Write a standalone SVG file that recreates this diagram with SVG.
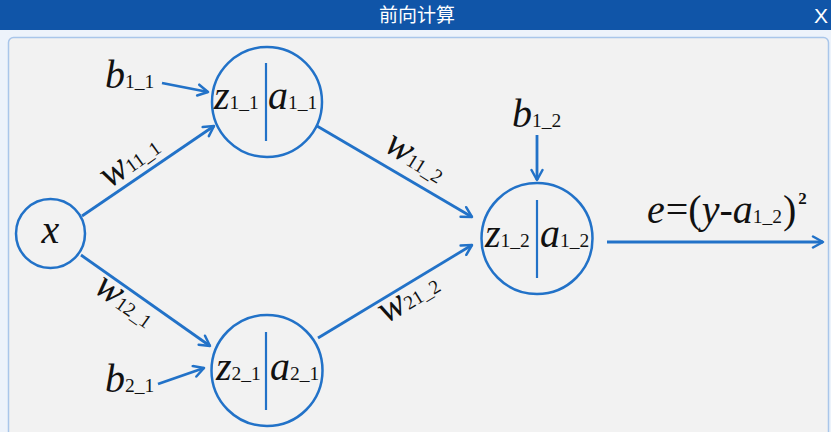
<svg xmlns="http://www.w3.org/2000/svg" width="831" height="432" viewBox="0 0 831 432">
<defs>
<style>
.m{font-family:"Liberation Serif","Times New Roman",serif;font-style:italic;font-size:40px;fill:#111}
.s{font-style:normal;font-size:19.5px}
.n{font-style:normal}
.sup{font-style:normal;font-size:17px;font-weight:bold}
.node{fill:none;stroke:#2272c8;stroke-width:2.5}
.div{stroke:#2272c8;stroke-width:2.2}
.edge{stroke:#2272c8;stroke-width:2.8;fill:none;marker-end:url(#arr)}
</style>
<marker id="arr" viewBox="0 0 14 14" markerWidth="14" markerHeight="14" refX="12" refY="7" orient="auto" markerUnits="userSpaceOnUse">
<path d="M2,1.5 L12,7 L2,12.5" fill="none" stroke="#2272c8" stroke-width="2.5" stroke-linecap="round" stroke-linejoin="round"/>
</marker>
</defs>
<rect x="0" y="0" width="831" height="432" fill="#edf3fb"/>
<rect x="0" y="0" width="831" height="30" fill="#1055a8"/>
<text x="417" y="22" text-anchor="middle" font-family="'Noto Sans CJK SC',sans-serif" font-size="19" fill="#ffffff">前向计算</text>
<text x="821" y="23" text-anchor="middle" font-family="'Liberation Sans',Arial,sans-serif" font-size="21" fill="#ffffff">X</text>
<rect x="8.5" y="37.5" width="820" height="420" rx="5" fill="#f2f2f2" stroke="#a9c6ea" stroke-width="1.5"/>

<g id="connectors">
<line class="edge" x1="162" y1="83" x2="208" y2="92"/>
<line class="edge" x1="82" y1="216" x2="214" y2="126"/>
<line class="edge" x1="81" y1="255" x2="210" y2="346"/>
<line class="edge" x1="158" y1="384" x2="204" y2="368"/>
<line class="edge" x1="317" y1="126" x2="472" y2="217"/>
<line class="edge" x1="318" y1="338" x2="472" y2="245"/>
<line class="edge" x1="537" y1="135" x2="537" y2="180"/>
<line class="edge" x1="607" y1="242" x2="823" y2="242"/>
<text class="m" x="136" y="170" text-anchor="middle" transform="rotate(-35.6 136 170)">w<tspan class="s">11_1</tspan></text>
<text class="m" x="119" y="310" text-anchor="middle" transform="rotate(35.4 119 310)">w<tspan class="s">12_1</tspan></text>
<text class="m" x="410" y="167" text-anchor="middle" transform="rotate(32.2 410 167)">w<tspan class="s">11_2</tspan></text>
<text class="m" x="414" y="307" text-anchor="middle" transform="rotate(-31.1 414 307)">w<tspan class="s">21_2</tspan></text>
</g>

<g id="bias_b1_1"><text class="m" x="105" y="88">b<tspan class="s">1_1</tspan></text></g>
<g id="bias_b2_1"><text class="m" x="105" y="392">b<tspan class="s">2_1</tspan></text></g>
<g id="bias_b1_2"><text class="m" x="512" y="127">b<tspan class="s">1_2</tspan></text></g>

<g id="node_x">
<circle class="node" cx="50.5" cy="233.5" r="34.5"/>
<text class="m" x="50.5" y="243" text-anchor="middle">x</text>
</g>
<g id="node_1_1">
<circle class="node" cx="267" cy="102" r="55"/>
<line class="div" x1="266" y1="63" x2="266" y2="141"/>
<text class="m" x="214" y="109">z<tspan class="s">1_1</tspan></text>
<text class="m" x="268" y="109">a<tspan class="s">1_1</tspan></text>
</g>
<g id="node_2_1">
<circle class="node" cx="267" cy="370.5" r="55.5"/>
<line class="div" x1="266" y1="332" x2="266" y2="410"/>
<text class="m" x="216" y="380">z<tspan class="s">2_1</tspan></text>
<text class="m" x="270" y="380">a<tspan class="s">2_1</tspan></text>
</g>
<g id="node_1_2">
<circle class="node" cx="537" cy="238.5" r="55.5"/>
<line class="div" x1="537" y1="200" x2="537" y2="278"/>
<text class="m" x="485" y="247">z<tspan class="s">1_2</tspan></text>
<text class="m" x="540" y="247">a<tspan class="s">1_2</tspan></text>
</g>
<g id="output_e">
<text class="m" x="647" y="223">e<tspan class="n" dx="1">=(</tspan>y<tspan class="n">-</tspan>a<tspan class="s">1_2</tspan><tspan class="n" dx="1">)</tspan><tspan class="sup" dx="2" dy="-19">2</tspan></text>
</g>
</svg>
